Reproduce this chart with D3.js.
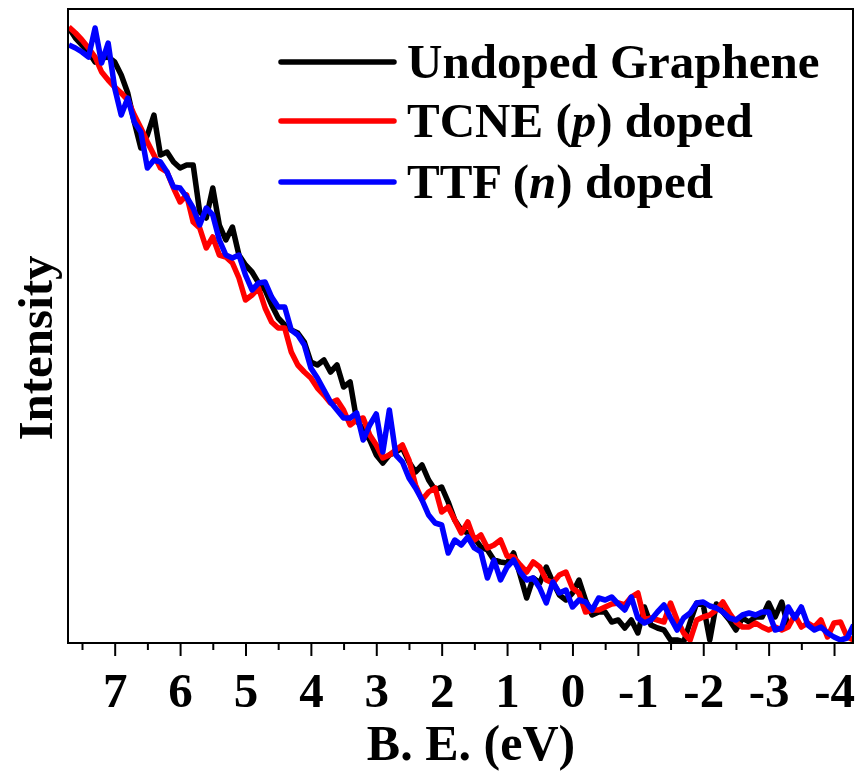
<!DOCTYPE html>
<html>
<head>
<meta charset="utf-8">
<script src="https://cdn.jsdelivr.net/npm/d3@7"></script>
<style>
  body { margin: 0; background: #fff; }
  text { font-family: "Liberation Serif", "Times New Roman", serif; font-weight: bold; }
</style>
</head>
<body>
<div id="chart"></div>
<script>
'use strict'

// binding energy grid (eV)
const energy = [
    7.7, 7.6, 7.5, 7.4, 7.3, 7.2, 7.1, 7.0, 6.9, 6.8,
    6.7, 6.6, 6.5, 6.4, 6.3, 6.2, 6.1, 6.0, 5.9, 5.8,
    5.7, 5.6, 5.5, 5.4, 5.3, 5.2, 5.1, 5.0, 4.9, 4.8,
    4.7, 4.6, 4.5, 4.4, 4.3, 4.2, 4.1, 4.0, 3.9, 3.8,
    3.7, 3.6, 3.5, 3.4, 3.3, 3.2, 3.1, 3.0, 2.9, 2.8,
    2.7, 2.6, 2.5, 2.4, 2.3, 2.2, 2.1, 2.0, 1.9, 1.8,
    1.7, 1.6, 1.5, 1.4, 1.3, 1.2, 1.1, 1.0, 0.9, 0.8,
    0.7, 0.6, 0.5, 0.4, 0.3, 0.2, 0.1, 0.0, -0.1, -0.2,
    -0.3, -0.4, -0.5, -0.6, -0.7, -0.8, -0.9, -1.0, -1.1, -1.2,
    -1.3, -1.4, -1.5, -1.6, -1.7, -1.8, -1.9, -2.0, -2.1, -2.2,
    -2.3, -2.4, -2.5, -2.6, -2.7, -2.8, -2.9, -3.0, -3.1, -3.2,
    -3.3, -3.4, -3.5, -3.6, -3.7, -3.8, -3.9, -4.0, -4.1, -4.2,
    -4.3
]

// intensities (a.u.)
const undoped = [
    615, 605, 598, 591, 581, 585, 586, 581, 568, 550,
    521, 495, 508, 528, 488, 491, 481, 475, 478, 478,
    431, 425, 455, 418, 403, 416, 388, 378, 371, 360,
    353, 338, 325, 318, 313, 310, 301, 281, 278, 283,
    271, 278, 256, 261, 223, 213, 203, 188, 180, 188,
    191, 195, 181, 171, 178, 163, 153, 156, 141, 123,
    113, 110, 105, 96, 93, 83, 81, 80, 90, 68,
    45, 65, 60, 76, 61, 48, 43, 50, 63, 43,
    28, 31, 31, 21, 23, 15, 23, 10, 36, 18,
    15, 13, 3, 3, 1, 21, 40, 38, 3, 39,
    31, 23, 13, 25, 21, 26, 26, 40, 26, 41,
    16
]

const tcne = [
    616, 610, 603, 595, 586, 571, 563, 556, 550, 543,
    528, 515, 501, 488, 475, 471, 455, 441, 448, 421,
    415, 395, 406, 388, 386, 380, 365, 343, 348, 355,
    335, 321, 315, 315, 291, 278, 271, 265, 255, 248,
    240, 243, 233, 218, 223, 225, 208, 198, 185, 188,
    193, 198, 183, 158, 143, 151, 155, 131, 136, 123,
    110, 121, 103, 108, 95, 98, 103, 87, 86, 78,
    71, 81, 76, 63, 60, 68, 71, 55, 50, 31,
    33, 33, 36, 39, 40, 38, 46, 50, 23, 25,
    23, 21, 40, 23, 10, 3, 23, 26, 28, 33,
    41, 30, 21, 16, 16, 20, 16, 13, 16, 13,
    16, 28, 16, 20, 16, 23, 6, 20, 21, 6,
    3
]

const ttf = [
    598, 595, 591, 586, 615, 580, 600, 555, 528, 545,
    521, 511, 475, 483, 481, 471, 456, 455, 446, 435,
    418, 435, 428, 403, 388, 385, 388, 368, 353, 360,
    361, 346, 336, 336, 313, 308, 298, 275, 265, 253,
    241, 233, 225, 225, 230, 203, 218, 229, 191, 233,
    188, 181, 165, 155, 143, 128, 120, 118, 90, 103,
    98, 106, 95, 91, 65, 83, 63, 76, 83, 71,
    63, 65, 55, 40, 61, 50, 53, 36, 43, 41,
    33, 45, 43, 46, 39, 33, 46, 25, 20, 23,
    31, 38, 25, 13, 25, 30, 40, 41, 37, 35,
    31, 25, 23, 28, 30, 28, 31, 31, 13, 15,
    36, 25, 36, 18, 13, 16, 10, 6, 3, 5,
    18
]

const seriesNames = ["Undoped Graphene", "TCNE (p) doped", "TTF (n) doped"]
const seriesColors = ["#000000", "#ff0000", "#0000ff"]
const majorTicks = [7, 6, 5, 4, 3, 2, 1, 0, -1, -2, -3, -4]
const minorTicks = [7.5, 6.5, 5.5, 4.5, 3.5, 2.5, 1.5, 0.5, -0.5, -1.5, -2.5, -3.5]

////////////////////////////////////
//////////// svg setup /////////////
////////////////////////////////////

const svgWidth = 859
const svgHeight = 777
const margin = { left: 68, right: 6, top: 9, bottom: 134 }
const width = svgWidth - margin.left - margin.right
const height = svgHeight - margin.top - margin.bottom
const fontSize = 49

const root = d3.select('#chart')
    .append('svg')
    .attr('width', svgWidth)
    .attr('height', svgHeight)

const svg = root.append('g')
    .attr('transform', `translate(${margin.left},${margin.top})`)

svg.append('defs').append('clipPath')
    .attr('id', 'plot-clip')
    .append('rect')
    .attr('width', width)
    .attr('height', height)

////////////////////////////////////
//////////// Scales ////////////////
////////////////////////////////////

const x = d3.scaleLinear()
    .domain([7.714, -4.29])
    .range([0, width])

const y = d3.scaleLinear()
    .domain([0, 634])
    .range([height, 0])

////////////////////////////////////
//////////// Lines /////////////////
////////////////////////////////////

const line = d3.line()
    .x(d => x(d.e))
    .y(d => y(d.v))

const series = [undoped, tcne, ttf].map((vals, i) => ({
    name: seriesNames[i],
    color: seriesColors[i],
    points: vals.map((v, j) => ({ e: energy[j], v: v }))
}))

svg.append('g')
    .attr('clip-path', 'url(#plot-clip)')
    .selectAll('path')
    .data(series)
    .join('path')
    .attr('fill', 'none')
    .attr('stroke', d => d.color)
    .attr('stroke-width', 5.5)
    .attr('stroke-linejoin', 'round')
    .attr('d', d => line(d.points))

////////////////////////////////////
//////////// Axes //////////////////
////////////////////////////////////

// frame
svg.append('rect')
    .attr('width', width)
    .attr('height', height)
    .attr('fill', 'none')
    .attr('stroke', '#000')
    .attr('stroke-width', 2)

const xAxis = d3.axisBottom(x)
    .tickValues(majorTicks)
    .tickSize(13)
    .tickPadding(16)
    .tickFormat(d => String(d))

const gx = svg.append('g')
    .attr('transform', `translate(0,${height})`)
    .call(xAxis)

gx.selectAll('line').attr('stroke-width', 2)
gx.selectAll('text')
    .attr('font-size', fontSize)
    .attr('fill', '#000')
    .attr('font-family', '"Liberation Serif", "Times New Roman", serif')
    .attr('font-weight', 'bold')

const xMinor = d3.axisBottom(x)
    .tickValues(minorTicks)
    .tickSize(7)
    .tickFormat('')

const gxm = svg.append('g')
    .attr('transform', `translate(0,${height})`)
    .call(xMinor)
gxm.selectAll('line').attr('stroke-width', 2)

svg.selectAll('.domain').remove()

// axis titles
root.append('text')
    .attr('x', 471)
    .attr('y', 760)
    .attr('text-anchor', 'middle')
    .attr('font-size', fontSize + 1)
    .text('B. E. (eV)')

root.append('text')
    .attr('text-anchor', 'middle')
    .attr('font-size', fontSize)
    .attr('transform', 'translate(52,348) rotate(-90)')
    .text('Intensity')

////////////////////////////////////
//////////// Legend ////////////////
////////////////////////////////////

const legend = root.append('g')
const legendY = [62, 121, 182]

series.forEach((s, i) => {
    legend.append('line')
        .attr('x1', 281)
        .attr('x2', 394)
        .attr('y1', legendY[i])
        .attr('y2', legendY[i])
        .attr('stroke', s.color)
        .attr('stroke-width', 5.5)
        .attr('stroke-linecap', 'round')
})

legend.append('text')
    .attr('x', 407)
    .attr('y', legendY[0] + 16)
    .attr('font-size', fontSize)
    .text('Undoped Graphene')

const t2 = legend.append('text')
    .attr('x', 407)
    .attr('y', legendY[1] + 16)
    .attr('font-size', fontSize)
t2.append('tspan').text('TCNE (')
t2.append('tspan').attr('font-style', 'italic').text('p')
t2.append('tspan').text(') doped')

const t3 = legend.append('text')
    .attr('x', 407)
    .attr('y', legendY[2] + 16)
    .attr('font-size', fontSize)
t3.append('tspan').text('TTF (')
t3.append('tspan').attr('font-style', 'italic').text('n')
t3.append('tspan').text(') doped')

</script>
</body>
</html>
